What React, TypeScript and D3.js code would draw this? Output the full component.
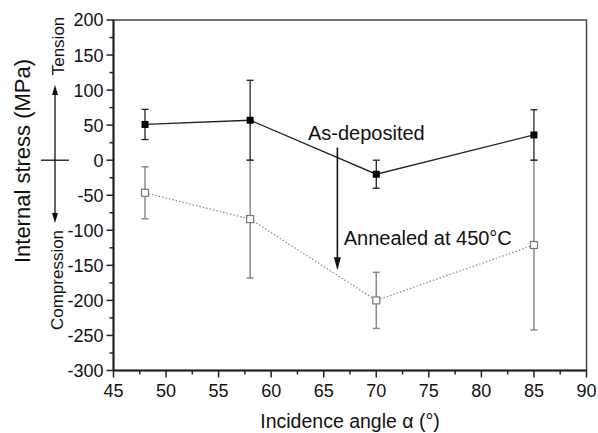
import React from "react";
import * as d3 from "d3";

const angles = [48, 58, 70, 85];
const asDeposited = [51, 57, -20, 36];
const asDepositedErr = [21.5, 57, 20, 36];
const annealed = [-46.5, -84, -200, -121];
const annealedErr = [37, 84, 40, 121];
const xTicks = [45, 50, 55, 60, 65, 70, 75, 80, 85, 90];
const yTicks = [200, 150, 100, 50, 0, -50, -100, -150, -200, -250, -300];

const W = 598, H = 433;
const left = 113.5, right = 586.5, top = 20, bottom = 370.5;
const FONT = "'Liberation Sans', Arial, sans-serif";

export default function App() {
  const x = d3.scaleLinear().domain([45, 90]).range([left, right]);
  const y = d3.scaleLinear().domain([-300, 200]).range([bottom, top]);
  const line = d3.line<number>().x((_, i) => x(angles[i])).y((d) => y(d));
  const xMinor = d3.range(45, 90.01, 2.5);
  const yMinor = d3.range(-300, 200.01, 25);
  const cap = 3.5;
  const ms = 7;
  const y0 = y(0);

  const errBars = (vals: number[], errs: number[], color: string, w: number) =>
    vals.map((v, i) => {
      const cx = x(angles[i]);
      const y1 = y(v + errs[i]);
      const y2 = y(v - errs[i]);
      return (
        <g key={i} stroke={color} strokeWidth={w}>
          <line x1={cx} x2={cx} y1={y1} y2={y2} />
          <line x1={cx - cap} x2={cx + cap} y1={y1} y2={y1} />
          <line x1={cx - cap} x2={cx + cap} y1={y2} y2={y2} />
        </g>
      );
    });

  const ax = x(66.3);
  const ay1 = y(18);
  const ay2 = y(-157);

  return (
    <svg width={W} height={H} style={{ position: "absolute", left: 0, top: 0, background: "#fff" }} fontFamily={FONT}>
      <rect width={W} height={H} fill="#fff" />
      {/* error bars */}
      {errBars(annealed, annealedErr, "#8a8a8a", 1.5)}
      {errBars(asDeposited, asDepositedErr, "#222", 1.3)}
      {/* lines */}
      <path d={line(annealed) || ""} fill="none" stroke="#8a8a8a" strokeWidth={1.2} strokeDasharray="1.5,2" />
      <path d={line(asDeposited) || ""} fill="none" stroke="#222" strokeWidth={1.3} />
      {/* markers */}
      {annealed.map((v, i) => (
        <rect key={"a" + i} x={x(angles[i]) - ms / 2} y={y(v) - ms / 2} width={ms} height={ms} fill="#fff" stroke="#777" strokeWidth={1.2} />
      ))}
      {asDeposited.map((v, i) => (
        <rect key={"d" + i} x={x(angles[i]) - ms / 2} y={y(v) - ms / 2} width={ms} height={ms} fill="#000" />
      ))}
      {/* frame */}
      <rect x={left} y={top} width={right - left} height={bottom - top} fill="none" stroke="#444" strokeWidth={1.5} />
      <line x1={left} x2={left} y1={top} y2={bottom} stroke="#222" strokeWidth={2} />
      <line x1={left} x2={right} y1={bottom} y2={bottom} stroke="#222" strokeWidth={2} />
      {/* y ticks */}
      {yMinor.map((t) => (
        <line key={"ym" + t} x1={left} x2={left - (t % 50 === 0 ? 7 : 4)} y1={y(t)} y2={y(t)} stroke="#222" strokeWidth={1.5} />
      ))}
      {yTicks.map((t) => (
        <text key={"yl" + t} x={left - 10} y={y(t)} dy="0.36em" textAnchor="end" fontSize={18} fill="#111">
          {t}
        </text>
      ))}
      {/* x ticks */}
      {xMinor.map((t) => (
        <line key={"xm" + t} x1={x(t)} x2={x(t)} y1={bottom} y2={bottom + (t % 5 === 0 ? 7 : 4)} stroke="#222" strokeWidth={1.5} />
      ))}
      {xTicks.map((t) => (
        <text key={"xl" + t} x={x(t)} y={bottom + 26} textAnchor="middle" fontSize={18} fill="#111">
          {t}
        </text>
      ))}
      {/* axis titles */}
      <text x={350} y={428} textAnchor="middle" fontSize={19.5} fill="#111">
        Incidence angle α (°)
      </text>
      <text transform={`translate(30,161) rotate(-90)`} textAnchor="middle" fontSize={22} fill="#111">
        Internal stress (MPa)
      </text>
      {/* tension / compression */}
      <text transform={`translate(64,46) rotate(-90)`} textAnchor="middle" fontSize={17} fill="#111">
        Tension
      </text>
      <text transform={`translate(63,280) rotate(-90)`} textAnchor="middle" fontSize={17} fill="#111">
        Compression
      </text>
      <line x1={55} x2={55} y1={93} y2={215} stroke="#111" strokeWidth={1.3} />
      <path d="M55,85 L52,95 L58,95 Z" fill="#111" />
      <path d="M55,223 L52,213 L58,213 Z" fill="#111" />
      <line x1={41} x2={69} y1={y0} y2={y0} stroke="#111" strokeWidth={1.3} />
      {/* annotations */}
      <text x={x(63.5)} y={y(29.5)} fontSize={20} fill="#111">As-deposited</text>
      <text x={x(66.9)} y={y(-121)} fontSize={20} fill="#111">Annealed at 450°C</text>
      <line x1={ax} x2={ax} y1={ay1} y2={ay2 - 10} stroke="#111" strokeWidth={1.6} />
      <path d={`M${ax},${ay2} L${ax - 3.5},${ay2 - 13} L${ax + 3.5},${ay2 - 13} Z`} fill="#111" />
    </svg>
  );
}
